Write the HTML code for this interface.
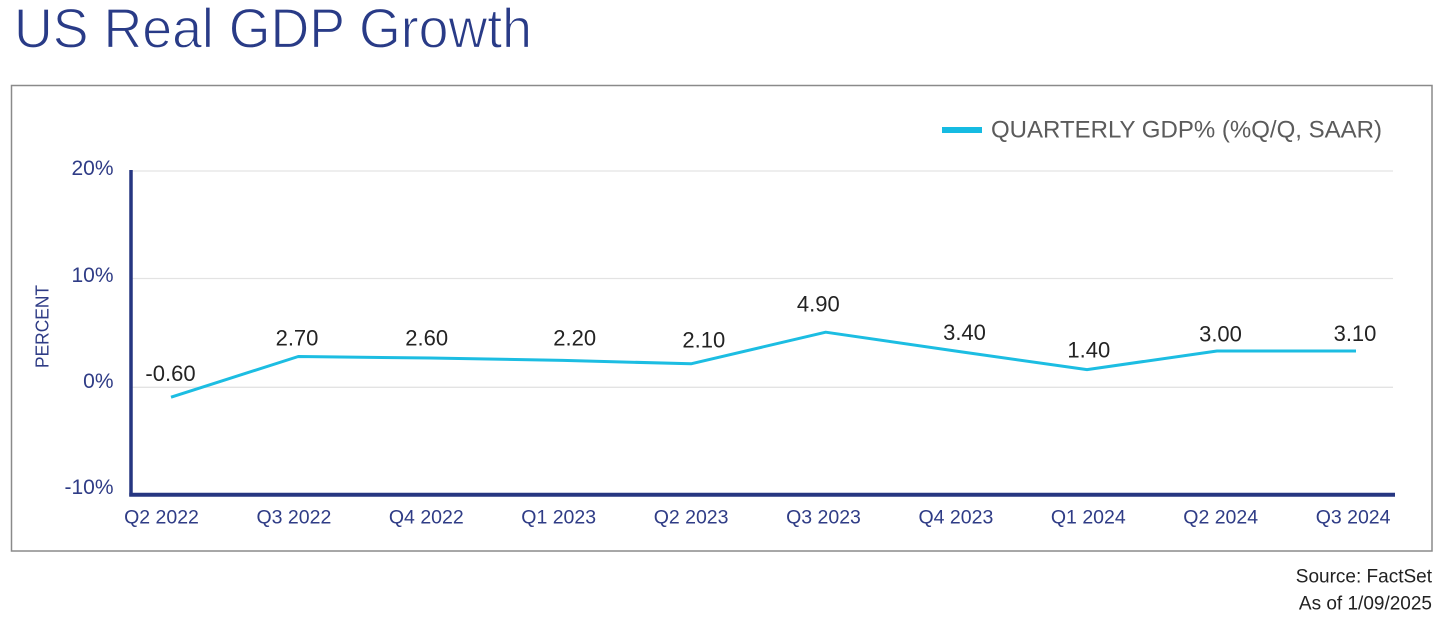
<!DOCTYPE html>
<html>
<head>
<meta charset="utf-8">
<style>
html,body{margin:0;padding:0;background:#fff;}
body{width:1440px;height:618px;overflow:hidden;}
svg{display:block;}
text{font-family:"Liberation Sans",Arial,sans-serif;}
</style>
</head>
<body>
<svg width="1440" height="618" viewBox="0 0 1440 618" xmlns="http://www.w3.org/2000/svg">
  <!-- Title -->
  <text x="14" y="47.5" font-size="56" fill="#293b87" stroke="#ffffff" stroke-width="1.2" textLength="518" lengthAdjust="spacingAndGlyphs">US Real GDP Growth</text>

  <!-- Frame -->
  <rect x="11.5" y="85.5" width="1420.5" height="465.5" fill="none" stroke="#8a8a8a" stroke-width="1.5"/>

  <!-- Legend -->
  <rect x="942" y="127" width="40" height="6" fill="#16bbe2"/>
  <text x="991" y="137.3" font-size="24" fill="#5b5b5b" textLength="391" lengthAdjust="spacingAndGlyphs">QUARTERLY GDP% (%Q/Q, SAAR)</text>

  <!-- Gridlines -->
  <g stroke="#e3e3e3" stroke-width="1.3">
    <line x1="131" y1="171" x2="1393" y2="171"/>
    <line x1="131" y1="278.5" x2="1393" y2="278.5"/>
    <line x1="131" y1="387.3" x2="1393" y2="387.3"/>
  </g>

  <!-- Axes -->
  <line x1="131" y1="170" x2="131" y2="496.5" stroke="#263681" stroke-width="3.5"/>
  <line x1="129.3" y1="494.7" x2="1395" y2="494.7" stroke="#263681" stroke-width="4"/>

  <!-- Y tick labels -->
  <g font-size="21" fill="#2f3c86" text-anchor="end">
    <text x="113.5" y="175">20%</text>
    <text x="113.5" y="282">10%</text>
    <text x="113.5" y="388">0%</text>
    <text x="113.5" y="494">-10%</text>
  </g>

  <!-- Y axis title -->
  <text transform="translate(48.3,326.5) rotate(-90)" x="0" y="0" font-size="18" fill="#2f3c86" text-anchor="middle" textLength="83" lengthAdjust="spacingAndGlyphs">PERCENT</text>

  <!-- X tick labels -->
  <g font-size="19.5" fill="#2f3c86" text-anchor="middle">
    <text x="161.5" y="523.3">Q2 2022</text>
    <text x="293.9" y="523.3">Q3 2022</text>
    <text x="426.3" y="523.3">Q4 2022</text>
    <text x="558.7" y="523.3">Q1 2023</text>
    <text x="691.1" y="523.3">Q2 2023</text>
    <text x="823.5" y="523.3">Q3 2023</text>
    <text x="955.9" y="523.3">Q4 2023</text>
    <text x="1088.3" y="523.3">Q1 2024</text>
    <text x="1220.7" y="523.3">Q2 2024</text>
    <text x="1353.1" y="523.3">Q3 2024</text>
  </g>

  <!-- Series line -->
  <polyline fill="none" stroke="#1cbde2" stroke-width="3" stroke-linejoin="round" stroke-linecap="butt"
    points="171,397.2 298.3,356.5 430,358 563,360.4 691,363.8 825.7,332.2 958,351.4 1087,369.6 1217,351 1356,351"/>

  <!-- Data labels -->
  <g font-size="22" fill="#232323" text-anchor="middle">
    <text x="170.5" y="381">-0.60</text>
    <text x="297" y="345.7">2.70</text>
    <text x="426.7" y="345.7">2.60</text>
    <text x="574.7" y="345.7">2.20</text>
    <text x="703.8" y="347.3">2.10</text>
    <text x="818.3" y="311.7">4.90</text>
    <text x="964.5" y="340">3.40</text>
    <text x="1088.8" y="357.7">1.40</text>
    <text x="1220.5" y="341.7">3.00</text>
    <text x="1355" y="341">3.10</text>
  </g>

  <!-- Source -->
  <g font-size="19" fill="#222" text-anchor="end">
    <text x="1432" y="582.7">Source: FactSet</text>
    <text x="1432" y="609.3">As of 1/09/2025</text>
  </g>
</svg>
</body>
</html>
